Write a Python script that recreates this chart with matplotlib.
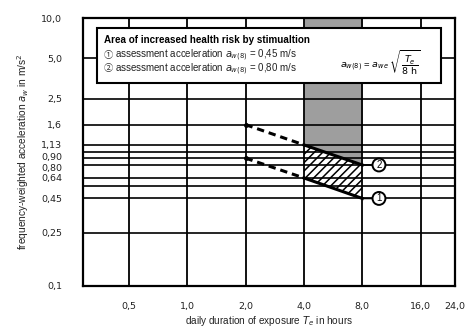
import matplotlib
matplotlib.use("Agg")
import matplotlib.pyplot as plt
from matplotlib.patches import Rectangle
import matplotlib.ticker as mticker
import matplotlib.transforms as mtransforms

# datos
x_ticks = [0.5, 1.0, 2.0, 4.0, 8.0, 16.0, 24.0]
x_labels = ["0,5", "1,0", "2,0", "4,0", "8,0", "16,0", "24,0"]
y_ticks = [0.1, 0.25, 0.45, 0.64, 0.80, 0.90, 1.13, 1.6, 2.5, 5.0, 10.0]
y_labels = ["0,1", "0,25", "0,45", "0,64", "0,80", "0,90", "1,13", "1,6", "2,5", "5,0", "10,0"]
y_extra = [0.56, 1.0]   # lineas sin etiqueta

t_dash = [2.0, 4.0]
t_solid = [4.0, 8.0]
curve1_dash = [0.90, 0.64]
curve1 = [0.64, 0.45]
curve2_dash = [1.6, 1.13]
curve2 = [1.13, 0.80]

plt.rcParams['font.family'] = ['Liberation Sans', 'DejaVu Sans']
plt.rcParams['hatch.linewidth'] = 1.1

fig = plt.figure(figsize=(4.66, 3.29), dpi=100)
ax = fig.add_axes([0.178, 0.131, 0.798, 0.814])
ax.set_xscale("log", base=2)
ax.set_yscale("log")
ax.set_xlim(0.29, 24)
ax.set_ylim(0.1, 10)

# zona gris y zona rayada
ax.fill_between(t_solid, curve2, [10, 10], color="#9e9e9e", lw=0, zorder=1)
ax.fill_between(t_solid, curve1, curve2, facecolor="white", edgecolor="black",
                hatch="////", lw=0, zorder=1)

# rejilla
for y in y_ticks + y_extra:
    ax.axhline(y, color="black", lw=1.2, zorder=2)
for x in x_ticks:
    ax.axvline(x, color="black", lw=1.3, zorder=2)

# curvas
ax.plot(t_solid, curve1, color="black", lw=2.2, zorder=4)
ax.plot(t_solid, curve2, color="black", lw=2.2, zorder=4)
ax.plot(t_dash, curve1_dash, color="black", lw=2.2, ls=(0, (2.4, 1.6)), zorder=4)
ax.plot(t_dash, curve2_dash, color="black", lw=2.2, ls=(0, (2.4, 1.6)), zorder=4)
ax.plot([t_dash[0], t_dash[0]], [curve1_dash[0], curve2_dash[0]], "o", color="black", ms=2.5, zorder=4)

# numeros en circulo
for lab, yv in [("1", curve1[-1]), ("2", curve2[-1])]:
    ax.annotate(lab, xy=(t_solid[-1], yv), xytext=(12, 0), textcoords="offset points",
                ha="center", va="center", fontsize=7,
                bbox=dict(boxstyle="circle,pad=0.15", fc="white", ec="black", lw=1.4),
                arrowprops=dict(arrowstyle="-", color="black", lw=1.2, shrinkA=0, shrinkB=0),
                zorder=5)

# cuadro de leyenda
ax.add_patch(Rectangle((0.038, 0.757), 0.924, 0.206, transform=ax.transAxes,
                       facecolor="white", edgecolor="black", lw=1.5, zorder=6))
ax.text(0.056, 0.92, "Area of increased health risk by stimualtion", transform=ax.transAxes,
        fontsize=7.1, fontweight="bold", va="center", zorder=7)
cjk = ['Noto Sans CJK JP', 'DejaVu Sans']
ax.text(0.056, 0.862, "\u2460", transform=ax.transAxes, family=cjk,
        fontsize=6.6, va="center", color="#333333", zorder=7)
ax.text(0.056, 0.81, "\u2461", transform=ax.transAxes, family=cjk,
        fontsize=6.6, va="center", color="#333333", zorder=7)
ax.text(0.085, 0.862, "assessment acceleration $a_{w(8)}$ = 0,45 m/s", transform=ax.transAxes,
        fontsize=7, va="center", color="#222222", zorder=7)
ax.text(0.085, 0.81, "assessment acceleration $a_{w(8)}$ = 0,80 m/s", transform=ax.transAxes,
        fontsize=7, va="center", color="#222222", zorder=7)
ax.text(0.69, 0.832, r"$a_{w(8)}$ = $a_{we}$ $\sqrt{\dfrac{T_e}{8\ \mathrm{h}}}$", transform=ax.transAxes,
        fontsize=6.8, va="center", zorder=7)

# ejes
ax.set_xticks(x_ticks)
ax.set_xticklabels(x_labels)
ax.set_yticks(y_ticks)
ax.set_yticklabels(y_labels)
ax.xaxis.set_minor_locator(mticker.NullLocator())
ax.yaxis.set_minor_locator(mticker.NullLocator())
ax.tick_params(length=0, labelsize=6.8, labelcolor="#222222")
ax.tick_params(axis="x", pad=11.5)
ax.tick_params(axis="y", pad=15)
for lab in ax.get_xticklabels() + ax.get_yticklabels():
    lab.set_family("DejaVu Sans")
# separar un poco las etiquetas 0,90 y 0,80 que quedan muy juntas
for lab in ax.get_yticklabels():
    if lab.get_text() == "0,90":
        lab.set_transform(lab.get_transform() + mtransforms.ScaledTranslation(0, 1.5 / 72, fig.dpi_scale_trans))
    if lab.get_text() == "0,80":
        lab.set_transform(lab.get_transform() + mtransforms.ScaledTranslation(0, -1.5 / 72, fig.dpi_scale_trans))
for s in ax.spines.values():
    s.set_linewidth(1.6)
    s.set_zorder(8)

ax.set_xlabel("daily duration of exposure $T_e$ in hours", fontsize=7.2, labelpad=2, color="#222222")
ax.set_ylabel("frequency-weighted acceleration $a_w$ in m/s$^2$", fontsize=7.3, labelpad=7, color="#222222")

fig.savefig("out.png", dpi=100)
